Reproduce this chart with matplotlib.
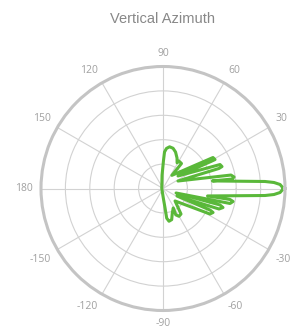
import numpy as np
import matplotlib.pyplot as plt

# pattern outline (degrees, radius as fraction of outer ring)
theta_deg = [0, 1.96, 3.1, 3.93, 8.7, 7.8, 9.2, 11.2, 26.6, 19.7, 20.4, 22.8,
             39.8, 29.4, 29.1, 31.8, 56, 53.5, 59.8, 61.2, 65.3, 71, 76, 81,
             85, 87.6, 89, 94, 180,
             -88, -84, -82.9, -79.6, -74.4, -69.2, -62.2, -64.1, -60.1, -54.8,
             -46, -28.5, -25.6, -24.6, -28.2, -20.1, -17.6, -16.1, -19,
             -12.6, -10.5, -9.3, -9.5, -3.93, -3.1, -1.96, 0]
radius = [0.988, 0.96, 0.911, 0.838, 0.41, 0.571, 0.59, 0.568, 0.137, 0.487,
          0.516, 0.507, 0.16, 0.451, 0.488, 0.482, 0.13, 0.255, 0.26, 0.24,
          0.275, 0.316, 0.34, 0.346, 0.33, 0.30, 0.23, 0.11, 0.01,
          0.08, 0.16, 0.245, 0.273, 0.265, 0.215, 0.18, 0.24, 0.263, 0.256,
          0.142, 0.438, 0.455, 0.424, 0.13, 0.489, 0.516, 0.486, 0.113,
          0.563, 0.584, 0.556, 0.37, 0.838, 0.911, 0.96, 0.988]

tick_angles = [30, 60, 90, 120, 150, 180, -150, -120, -90, -60, -30]
tick_labels = ["30", "60", "90", "120", "150", "180", "-150", "-120", "-90", "-60", "-30"]
ring_levels = [0.2, 0.4, 0.6, 0.8, 1.0]

W, H = 295, 331
fig = plt.figure(figsize=(W / 100, H / 100), dpi=100)
fig.patch.set_facecolor("white")

ax = fig.add_axes([41 / W, (H - 310.5) / H, 244 / W, 244 / H], projection="polar")
ax.set_ylim(0, 1)
ax.set_rgrids(ring_levels, labels=[""] * len(ring_levels))
ax.set_thetagrids(range(0, 360, 30), labels=[""] * 12)
ax.grid(True, color="#d2d2d2", linewidth=0.8)
ax.spines["polar"].set_color("#c4c4c4")
ax.spines["polar"].set_linewidth(2.2)
ax.tick_params(length=0)

ax.plot(np.deg2rad(theta_deg), radius, color="#5ab83a", linewidth=2.2,
        solid_joinstyle="round", solid_capstyle="round", clip_on=False)

# angle labels placed just outside the outer ring
gap = 1 + 8 / 122
for ang, lab in zip(tick_angles, tick_labels):
    c, s = np.cos(np.deg2rad(ang)), np.sin(np.deg2rad(ang))
    ha = "left" if c > 0.1 else ("right" if c < -0.1 else "center")
    va = "bottom" if s > 0.1 else ("top" if s < -0.1 else "center")
    ax.text(np.deg2rad(ang), gap, lab, ha=ha, va=va, fontsize=7.5,
            color="#a0a0a0", family="Open Sans", clip_on=False)

fig.text(162 / W, 1 - 19 / H, "Vertical Azimuth", ha="center", va="center",
         fontsize=10.5, color="#888888", family="Liberation Sans")

fig.savefig("out.png", dpi=100)
